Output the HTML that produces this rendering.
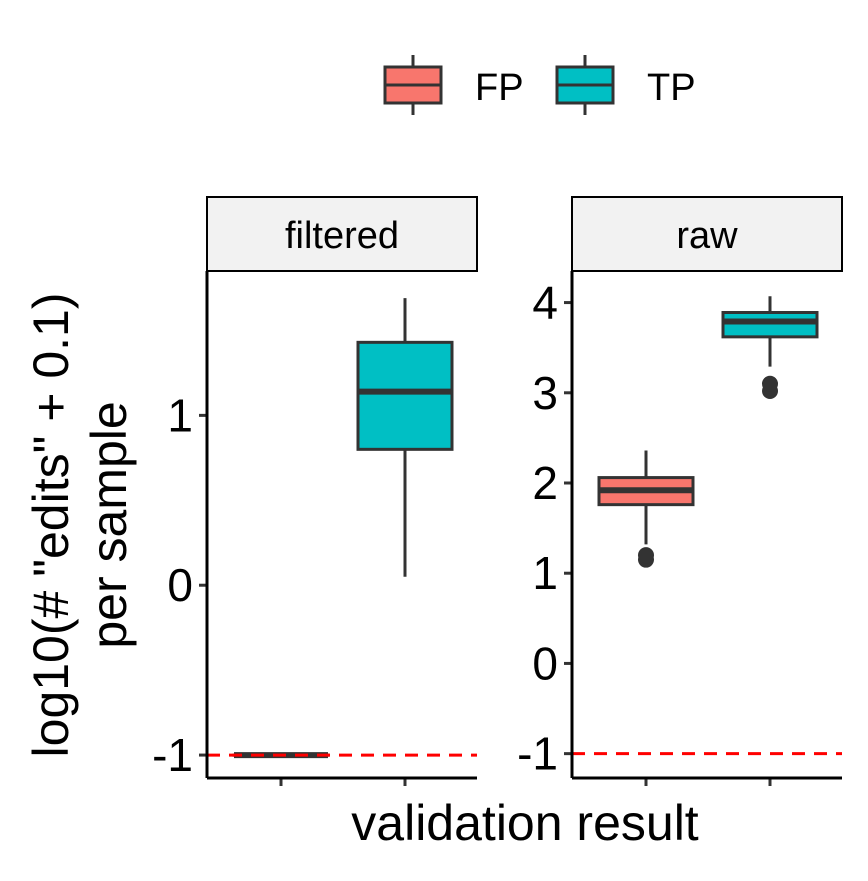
<!DOCTYPE html>
<html><head><meta charset="utf-8"><style>
body{margin:0;background:#fff}
svg text{font-family:"Liberation Sans",Arial,sans-serif;fill:#000}
</style></head><body>
<svg id="chart" width="868" height="876" xmlns="http://www.w3.org/2000/svg"></svg>
<script>
const categories=["FP","TP"];
const panels=["filtered","raw"];
// per panel, per category: [whiskerLow, q1, median, q3, whiskerHigh]
const filteredStats=[[-1,-1,-1,-1,-1],[0.05,0.8,1.14,1.43,1.69]];
const rawStats=[[1.32,1.76,1.92,2.06,2.36],[3.29,3.62,3.79,3.89,4.07]];
const filteredOutliers=[[],[]];
const rawOutliers=[[1.15,1.2],[3.02,3.1]];
const filteredTicks=[-1,0,1];
const rawTicks=[-1,0,1,2,3,4];
const refLine=-1;
const colors=["#F8766D","#00BFC4"];
const NS="http://www.w3.org/2000/svg";
const svg=document.getElementById('chart');
function mk(tag,attrs,parent,name){const e=document.createElementNS(NS,tag);for(const k in attrs)e.setAttribute(k,attrs[k]);


(parent||svg).appendChild(e);return e;}
const plotTop=271,plotBot=778;
const cfg=[
 {x0:207,x1:477,ymin:-1.135,ymax:1.85,stats:filteredStats,out:filteredOutliers,ticks:filteredTicks},
 {x0:572,x1:842,ymin:-1.27,ymax:4.35,stats:rawStats,out:rawOutliers,ticks:rawTicks}];
cfg.forEach((c,pi)=>{
 const g=mk('g',{},svg,'panel-'+panels[pi]);
 const y=v=>plotBot-(v-c.ymin)/(c.ymax-c.ymin)*(plotBot-plotTop);
 const w=c.x1-c.x0;
 mk('rect',{x:c.x0,y:197,width:w,height:74,fill:'#f2f2f2',stroke:'#000','stroke-width':2},g,'strip-'+panels[pi]);
 const st=mk('text',{x:c.x0+w/2,y:248,'font-size':38,'text-anchor':'middle'},g,'strip-label');st.textContent=panels[pi];
 categories.forEach((cat,i)=>{
  const cx=c.x0+74+i*124, s=c.stats[i], hw=47;
  mk('line',{x1:cx,x2:cx,y1:y(s[0]),y2:y(s[4]),stroke:'#333','stroke-width':3},g,'whisker-'+cat);
  mk('rect',{x:cx-hw,y:y(s[3]),width:2*hw,height:Math.max(y(s[1])-y(s[3]),0.1),fill:colors[i],stroke:'#333','stroke-width':3},g,'box-'+cat);
  mk('line',{x1:cx-hw,x2:cx+hw,y1:y(s[2]),y2:y(s[2]),stroke:'#333','stroke-width':6},g,'median-'+cat);
  c.out[i].forEach(o=>mk('circle',{cx:cx,cy:y(o),r:8,fill:'#333'},g,'outlier-'+cat));
  mk('line',{x1:cx,x2:cx,y1:plotBot,y2:plotBot+8,stroke:'#333','stroke-width':3},g,'x-tick');
 });
 mk('line',{x1:c.x0,x2:c.x1,y1:y(refLine),y2:y(refLine),stroke:'#f00','stroke-width':3,'stroke-dasharray':'13,9'},g,'reference-line');
 c.ticks.forEach(t=>{
  mk('line',{x1:c.x0-8,x2:c.x0,y1:y(t),y2:y(t),stroke:'#333','stroke-width':3},g,'y-tick');
  const tx=mk('text',{x:c.x0-14,y:y(t)+16,'font-size':46,'text-anchor':'end'},g,'y-tick-label');tx.textContent=t;
 });
 mk('line',{x1:c.x0,x2:c.x0,y1:plotTop,y2:plotBot,stroke:'#000','stroke-width':3},g,'y-axis');
 mk('line',{x1:c.x0,x2:c.x1,y1:plotBot,y2:plotBot,stroke:'#000','stroke-width':3},g,'x-axis');
});
const xt=mk('text',{x:525,y:840,'font-size':50,'text-anchor':'middle'},svg,'x-axis-title');xt.textContent='validation result';
const yt=mk('text',{transform:'translate(68,525) rotate(-90)','font-size':50,'text-anchor':'middle'},svg,'y-axis-title');
yt.textContent='log10(# "edits" + 0.1)';
const yt2=mk('text',{transform:'translate(126,525) rotate(-90)','font-size':50,'text-anchor':'middle'},svg,'y-axis-title-line2');
yt2.textContent='per sample';
categories.forEach((cat,i)=>{
 const lx=385+i*172;
 const lg=mk('g',{},svg,'legend-entry-'+cat);
 mk('line',{x1:lx+28,x2:lx+28,y1:55,y2:115,stroke:'#333','stroke-width':3},lg,'legend-whisker');
 mk('rect',{x:lx,y:67,width:56,height:36,fill:colors[i],stroke:'#333','stroke-width':3},lg,'legend-key');
 mk('line',{x1:lx,x2:lx+56,y1:85,y2:85,stroke:'#333','stroke-width':3},lg,'legend-median');
 const t=mk('text',{x:lx+90,y:100,'font-size':38},lg,'legend-label');t.textContent=cat;
});
</script>
</body></html>
